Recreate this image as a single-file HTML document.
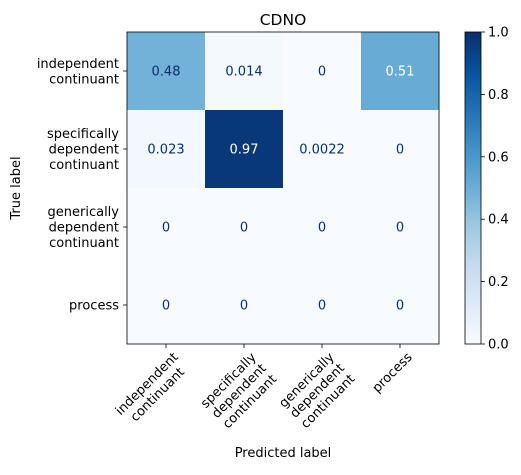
<!DOCTYPE html>
<html><head><meta charset="utf-8"><style>
body{margin:0;background:#fff;}
svg text{font-family:"DejaVu Sans","Liberation Sans",sans-serif;font-size:13px;fill:#000;}
</style></head><body>
<svg id="chart" width="521" height="470" xmlns="http://www.w3.org/2000/svg">
<defs><linearGradient id="cb" x1="0" y1="1" x2="0" y2="0">
<stop offset="0" stop-color="#f7fbff"/><stop offset="0.125" stop-color="#deebf7"/><stop offset="0.25" stop-color="#c6dbef"/><stop offset="0.375" stop-color="#9ecae1"/><stop offset="0.5" stop-color="#6baed6"/><stop offset="0.625" stop-color="#4292c6"/><stop offset="0.75" stop-color="#2171b5"/><stop offset="0.875" stop-color="#08519c"/><stop offset="1" stop-color="#08306b"/>
</linearGradient></defs>
<text x="283" y="25" text-anchor="middle" style="font-size:15.5px">CDNO</text>
<g id="cells"></g>
<rect x="465" y="32" width="16" height="312" fill="url(#cb)" stroke="#000" stroke-width="0.8"/>
<g id="cbticks"></g>
<text x="283" y="457" text-anchor="middle">Predicted label</text>
<text transform="translate(20,188) rotate(-90)" text-anchor="middle">True label</text>
</svg>
<script>
const categories=[["independent","continuant"],["specifically","dependent","continuant"],["generically","dependent","continuant"],["process"]];
const values=[[0.48,0.014,0,0.51],[0.023,0.97,0.0022,0],[0,0,0,0],[0,0,0,0]];
const labels=[["0.48","0.014","0","0.51"],["0.023","0.97","0.0022","0"],["0","0","0","0"],["0","0","0","0"]];
const cbTicks=[0,0.2,0.4,0.6,0.8,1.0];
const cbTickLabels=["0.0","0.2","0.4","0.6","0.8","1.0"];
const NS="http://www.w3.org/2000/svg";
const L=127,T=32,W=312,H=312,n=4,cw=W/n,ch=H/n,vmax=1;
const stops=["#f7fbff","#deebf7","#c6dbef","#9ecae1","#6baed6","#4292c6","#2171b5","#08519c","#08306b"];
function hex(h){return [1,3,5].map(i=>parseInt(h.substr(i,2),16));}
function blues(v){let t=Math.max(0,Math.min(1,v/vmax))*8;let i=Math.min(7,Math.floor(t));let f=t-i;let a=hex(stops[i]),b=hex(stops[i+1]);return "rgb("+a.map((x,k)=>Math.round(x+(b[k]-x)*f)).join(",")+")";}
function xS(j){return L+cw*(j+0.5);}
function yS(i){return T+ch*(i+0.5);}
function cbY(v){return T+H-(v/vmax)*H;}
function mk(tag,attrs,parent){const e=document.createElementNS(NS,tag);for(const k in attrs)e.setAttribute(k,attrs[k]);parent.appendChild(e);return e;}
const svg=document.getElementById('chart'),g=document.getElementById('cells');
values.forEach((row,i)=>row.forEach((v,j)=>{
 const r=mk('rect',{x:L+cw*j,y:T+ch*i,width:cw+0.5,height:ch+0.5,fill:blues(v)},g);
 
 
 const t=mk('text',{x:xS(j),y:yS(i)+4.5,'text-anchor':'middle'},g);
 
 
 t.style.fill=v>0.485?'#fff':'#08306b';
 t.textContent=labels[i][j];
}));
mk('rect',{x:L,y:T,width:W,height:H,fill:'none',stroke:'#000','stroke-width':0.8},svg);
categories.forEach((lines,i)=>{
 mk('line',{x1:L-4,x2:L,y1:yS(i),y2:yS(i),stroke:'#000','stroke-width':0.8},svg);
 const lh=15.5,y0=yS(i)-(lines.length-1)*lh/2+4.5;
 lines.forEach((s,k)=>{const t=mk('text',{x:L-8,y:y0+k*lh,'text-anchor':'end'},svg);
  
  
  t.textContent=s;});
 mk('line',{x1:xS(i),x2:xS(i),y1:T+H,y2:T+H+4,stroke:'#000','stroke-width':0.8},svg);
 const grp=mk('g',{transform:'translate('+(xS(i)+5)+','+(T+H+6)+') rotate(-45)'},svg);
 
 
 const ts=lines.map((s,k)=>{const t=mk('text',{x:0,y:11+k*15,'text-anchor':'middle'},grp);t.textContent=s;return t;});
 const mw=Math.max(...ts.map(t=>t.getComputedTextLength()));
 ts.forEach(t=>t.setAttribute('x',-mw/2));
});
const cg=document.getElementById('cbticks');
cbTicks.forEach((v,k)=>{
 mk('line',{x1:481,x2:485,y1:cbY(v),y2:cbY(v),stroke:'#000','stroke-width':0.8},cg);
 const t=mk('text',{x:488,y:cbY(v)+4.5},cg);
 
 
 t.textContent=cbTickLabels[k];
});
</script>
</body></html>
